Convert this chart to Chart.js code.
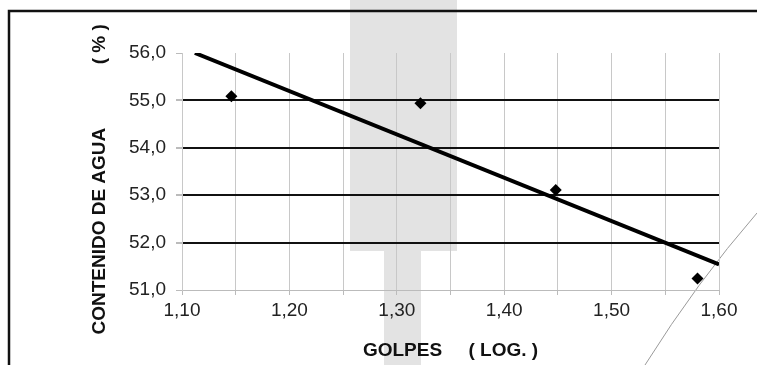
<!DOCTYPE html>
<html><head><meta charset="utf-8">
<script src="https://cdn.jsdelivr.net/npm/chart.js@4"></script>
<style>html,body{margin:0;padding:0;background:#fff}#wrap{width:757px;height:365px}</style>
</head><body><div id="wrap"><canvas id="c" width="757" height="365"></canvas></div>
<script>
// ---- data ----
const xTickLabels = ['1,10', '1,20', '1,30', '1,40', '1,50', '1,60'];
const yTickLabels = ['51,0', '52,0', '53,0', '54,0', '55,0', '56,0'];
const golpesLog = [1.146, 1.322, 1.448, 1.580];
const contenidoAgua = [55.09, 54.94, 53.11, 51.24];
const trendX = [1.112, 1.60];
const trendY = [56.0, 51.54];
const xTitle = 'GOLPES     ( LOG. )';
const yTitle = 'CONTENIDO DE AGUA            ( % )   ';

const FONT = "'Liberation Sans', Arial, Helvetica, sans-serif";

const scanBackground = {
  id: 'scanBackground',
  beforeDraw(chart) {
    const ctx = chart.ctx;
    ctx.save();
    ctx.fillStyle = '#fff';
    ctx.fillRect(0, 0, chart.width, chart.height);
    ctx.fillStyle = '#e3e3e3';
    ctx.fillRect(350, 0, 107, 251);
    ctx.fillRect(384, 251, 37, 114);
    ctx.strokeStyle = '#111';
    ctx.lineWidth = 2.5;
    ctx.beginPath();
    ctx.moveTo(9, 365);
    ctx.lineTo(9, 11);
    ctx.lineTo(757, 11);
    ctx.stroke();
    ctx.strokeStyle = '#9a9a9a';
    ctx.lineWidth = 1;
    ctx.beginPath();
    ctx.moveTo(757, 213);
    ctx.quadraticCurveTo(697, 282, 645, 365);
    ctx.stroke();
    ctx.restore();
  }
};

const ySpecial = v => v > 51.5 && v < 55.5;

new Chart(document.getElementById('c'), {
  type: 'scatter',
  data: {
    datasets: [
      {
        type: 'line',
        data: trendX.map((x, i) => ({x: x, y: trendY[i]})),
        borderColor: '#000',
        borderWidth: 4,
        pointRadius: 0,
        fill: false,
        tension: 0
      },
      {
        type: 'scatter',
        data: golpesLog.map((x, i) => ({x: x, y: contenidoAgua[i]})),
        pointStyle: 'rectRot',
        pointRadius: 6,
        backgroundColor: '#000',
        borderColor: '#000',
        borderWidth: 0
      }
    ]
  },
  options: {
    responsive: false,
    animation: false,
    devicePixelRatio: 1,
    layout: {padding: {left: 88, top: 53, right: 38, bottom: 3}},
    plugins: {legend: {display: false}, tooltip: {enabled: false}},
    scales: {
      x: {
        type: 'linear',
        min: 1.1,
        max: 1.6,
        afterFit: s => { s.height = 72; },
        ticks: {
          stepSize: 0.05,
          autoSkip: false,
          maxRotation: 0,
          padding: 4,
          color: '#222',
          font: {family: FONT, size: 19},
          callback: (v, i) => (i % 2 === 0 ? xTickLabels[i / 2] : '')
        },
        grid: {color: '#c8c8c8', lineWidth: 1, tickLength: 5, tickColor: '#bbb'},
        border: {color: '#bbb', width: 1},
        title: {display: true, text: xTitle, color: '#111', padding: 0,
          font: {family: FONT, size: 19, weight: 'bold'}}
      },
      y: {
        min: 51,
        max: 56,
        afterFit: s => { s.width = 94; },
        ticks: {
          stepSize: 1,
          padding: 10,
          color: '#222',
          font: {family: FONT, size: 19},
          callback: (v, i) => yTickLabels[i]
        },
        grid: {
          color: c => ySpecial(c.tick.value) ? '#111' : (c.tick.value < 51.5 ? '#bbb' : 'rgba(0,0,0,0)'),
          lineWidth: c => ySpecial(c.tick.value) ? 2 : 1,
          tickLength: 6,
          tickColor: '#bbb'
        },
        border: {color: '#c8c8c8', width: 1},
        title: {display: true, text: yTitle, color: '#111', padding: 0,
          font: {family: FONT, size: 19, weight: 'bold'}}
      }
    }
  },
  plugins: [scanBackground]
});
</script>
</body></html>
